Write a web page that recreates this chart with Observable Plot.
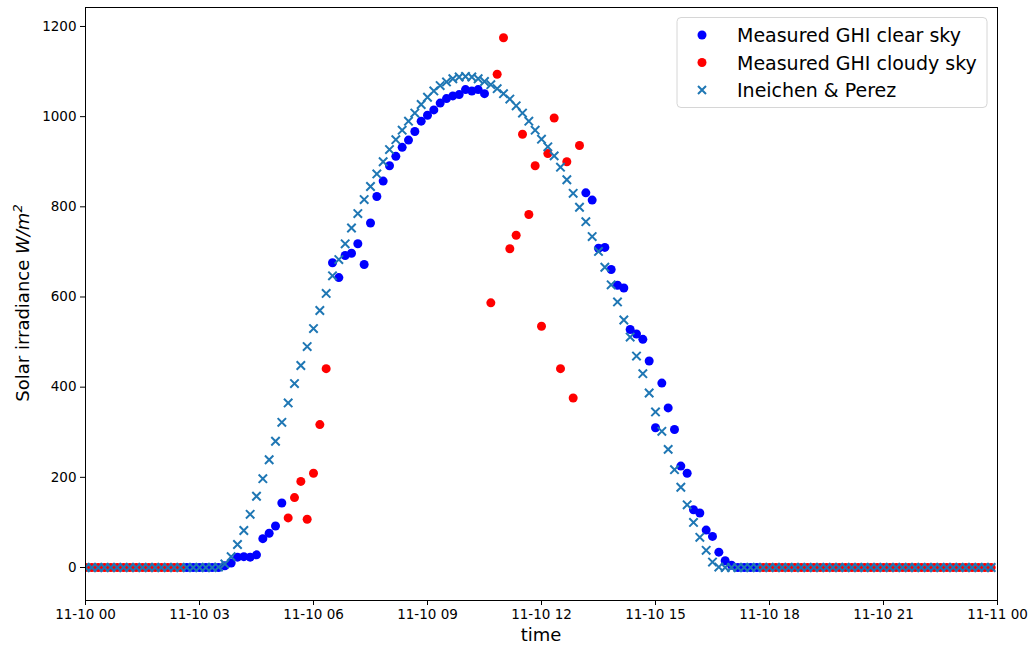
<!DOCTYPE html>
<html>
<head>
<meta charset="utf-8">
<script src="https://cdn.jsdelivr.net/npm/d3@7"></script>
<script src="https://cdn.jsdelivr.net/npm/@observablehq/plot@0.6"></script>
<style>
  html, body { margin: 0; padding: 0; background: #fff; }
  #chart { width: 1029px; height: 646px; font-family: "DejaVu Sans", sans-serif; }
</style>
</head>
<body>
<div id="chart"></div>
<script>
// ---- data: 10-minute samples on 11-10, from 00:00 to 23:50 ----
const dayStart = new Date(Date.UTC(2020, 10, 10, 0, 0));
const dayEnd = new Date(Date.UTC(2020, 10, 11, 0, 0));
const stepMinutes = 10;

// Ineichen & Perez clear-sky model
const modelGHI = [
  0,0,0,0,0,0, 0,0,0,0,0,0, 0,0,0,0,0,0,            // 00:00-02:50
  0,0,0,1,8,24,                                      // 03:00-03:50
  51,82,118,158,197,239,                             // 04:00
  280,322,365,408,448,490,                           // 05:00
  530,570,608,647,683,718,                           // 06:00
  753,785,816,845,873,900,                           // 07:00
  927,949,970,990,1008,1027,                         // 08:00
  1043,1057,1069,1077,1084,1088,                     // 09:00
  1089,1088,1084,1078,1071,1062,                     // 10:00
  1051,1039,1024,1008,990,970,                       // 11:00
  950,933,913,888,860,830,                           // 12:00
  799,767,734,701,666,627,                           // 13:00
  589,549,511,469,430,387,                           // 14:00
  345,302,262,217,178,139,                           // 15:00
  100,67,38,12,1,0,                                  // 16:00
  0,0,0,0,0,0, 0,0,0,0,0,0, 0,0,0,0,0,0,            // 17:00-19:50
  0,0,0,0,0,0, 0,0,0,0,0,0, 0,0,0,0,0,0, 0,0,0,0,0,0 // 20:00-23:50
];

// Measured GHI, clear-sky periods
const clearGHI = [
  null,null,null,null,null,null, null,null,null,null,null,null, // 00:00-01:50
  null,null,null,null,0,0,                                      // 02:00
  0,0,0,0,4,10,                                                 // 03:00
  23,24,23,28,64,76,                                            // 04:00
  92,143,null,null,null,null,                                   // 05:00
  null,null,null,676,643,692,                                   // 06:00
  697,718,672,764,823,857,                                      // 07:00
  891,912,932,948,967,990,                                      // 08:00
  1003,1015,1030,1040,1046,1049,                                // 09:00
  1060,1057,1060,1051,null,null,                                // 10:00
  null,null,null,null,null,null,                                // 11:00
  null,null,null,null,null,null,                                // 12:00
  null,831,815,708,710,661,                                     // 13:00
  626,620,528,518,506,458,                                      // 14:00
  310,409,354,306,225,209,                                      // 15:00
  128,121,83,69,34,15,                                          // 16:00
  5,0,0,0,0,null,                                               // 17:00
  null,null,null,null,null,null, null,null,null,null,null,null, // 18:00-19:50
  null,null,null,null,null,null, null,null,null,null,null,null, // 20:00-21:50
  null,null,null,null,null,null, null,null,null,null,null,null  // 22:00-23:50
];

// Measured GHI, cloudy-sky periods
const cloudyGHI = [
  0,0,0,0,0,0, 0,0,0,0,0,0,                                     // 00:00-01:50
  0,0,0,0,null,null,                                            // 02:00
  null,null,null,null,null,null,                                // 03:00
  null,null,null,null,null,null,                                // 04:00
  null,null,110,155,191,107,                                    // 05:00
  209,317,441,null,null,null,                                   // 06:00
  null,null,null,null,null,null,                                // 07:00
  null,null,null,null,null,null,                                // 08:00
  null,null,null,null,null,null,                                // 09:00
  null,null,null,null,587,1094,                                 // 10:00
  1175,707,737,961,783,891,                                     // 11:00
  535,918,997,441,900,376,                                      // 12:00
  936,null,null,null,null,null,                                 // 13:00
  null,null,null,null,null,null,                                // 14:00
  null,null,null,null,null,null,                                // 15:00
  null,null,null,null,null,null,                                // 16:00
  null,null,null,null,null,0,                                   // 17:00
  0,0,0,0,0,0, 0,0,0,0,0,0,                                     // 18:00-19:50
  0,0,0,0,0,0, 0,0,0,0,0,0,                                     // 20:00-21:50
  0,0,0,0,0,0, 0,0,0,0,0,0                                      // 22:00-23:50
];

const xTickHours = [0, 3, 6, 9, 12, 15, 18, 21, 24];
const yTicks = [0, 200, 400, 600, 800, 1000, 1200];
const seriesNames = ["Measured GHI clear sky", "Measured GHI cloudy sky", "Ineichen & Perez"];
const seriesColors = ["#0000ff", "#ff0000", "#1f77b4"];

// ---- build tables ----
const timeAt = i => new Date(dayStart.getTime() + i * stepMinutes * 60000);
const toRows = arr => arr.map((v, i) => ({time: timeAt(i), ghi: v})).filter(d => d.ghi != null);
const modelRows = toRows(modelGHI);
const clearRows = toRows(clearGHI);
const cloudyRows = toRows(cloudyGHI);
const xTicks = xTickHours.map(h => new Date(dayStart.getTime() + h * 3600000));

const chart = Plot.plot({
  width: 1029,
  height: 646,
  marginLeft: 85,
  marginRight: 32,
  marginTop: 7,
  marginBottom: 46,
  style: {fontFamily: "DejaVu Sans, sans-serif", fontSize: "13.5px", color: "#000", background: "#fff"},
  x: {type: "utc", domain: [dayStart, dayEnd], ticks: xTicks, tickFormat: d3.utcFormat("%m-%d %H"),
      tickSize: 5, tickPadding: 4, label: null},
  y: {domain: [-73.2, 1242.1], ticks: yTicks, tickFormat: d3.format("d"), tickSize: 5, tickPadding: 4, label: null},
  marks: [
    Plot.dot(clearRows, {x: "time", y: "ghi", r: 4.5, fill: seriesColors[0], stroke: "none", clip: true}),
    Plot.dot(cloudyRows, {x: "time", y: "ghi", r: 4.5, fill: seriesColors[1], stroke: "none", clip: true}),
    Plot.dot(modelRows, {x: "time", y: "ghi", r: 3.9, symbol: "times", stroke: seriesColors[2], strokeWidth: 2, clip: true}),
    Plot.frame({stroke: "#000", strokeWidth: 1})
  ]
});

const svg = d3.select(chart);
// axis labels
svg.append("text")
  .attr("x", 541).attr("y", 641)
  .attr("text-anchor", "middle")
  .style("font-size", "18px").attr("fill", "#000")
  .text("time");
const yl = svg.append("text")
  .attr("transform", "translate(29,303) rotate(-90)")
  .attr("text-anchor", "middle")
  .style("font-size", "18px").attr("fill", "#000");
yl.append("tspan").text("Solar irradiance ");
yl.append("tspan").style("font-style", "italic").text("W/m");
yl.append("tspan").style("font-style", "italic").style("font-size", "13px").attr("dy", -7).text("2");

// legend
const lg = svg.append("g").attr("text-anchor", "start");
lg.append("rect").attr("x", 677).attr("y", 17.5).attr("width", 310).attr("height", 90)
  .attr("rx", 4).attr("fill", "rgba(255,255,255,0.8)").attr("stroke", "#d6d6d6").attr("stroke-width", 1);
const rowY = [35, 62.5, 90];
seriesNames.forEach((name, k) => {
  const cy = rowY[k];
  if (k < 2) {
    lg.append("circle").attr("cx", 702).attr("cy", cy).attr("r", 4.5).attr("fill", seriesColors[k]);
  } else {
    lg.append("path").attr("d", `M698,${cy-4}L706,${cy+4}M698,${cy+4}L706,${cy-4}`)
      .attr("stroke", seriesColors[k]).attr("stroke-width", 2);
  }
  lg.append("text").attr("x", 737).attr("y", cy + 7).attr("text-anchor", "start")
    .style("font-size", "19px").attr("fill", "#000").text(name);
});

document.getElementById("chart").appendChild(chart);
</script>
</body>
</html>
